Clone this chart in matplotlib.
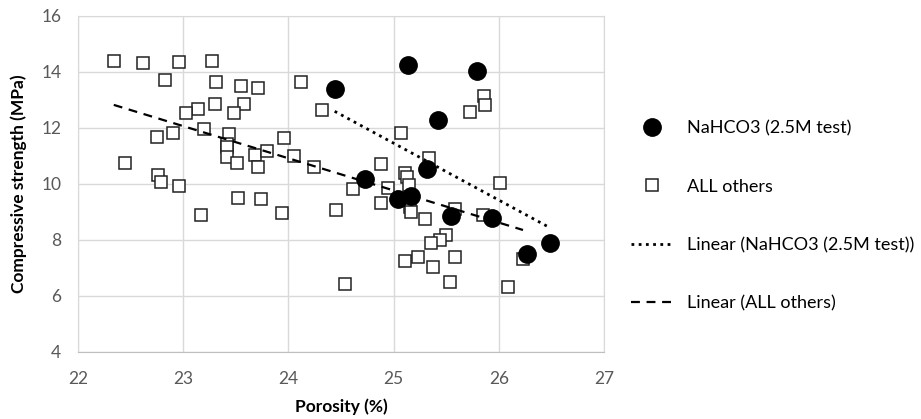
import matplotlib.pyplot as plt
import numpy as np

# NaHCO3 (2.5M test)
nahco3_porosity = [24.44, 25.14, 25.79, 25.42, 25.32, 24.73, 25.04, 25.17,
                   25.55, 25.94, 26.27, 26.49]
nahco3_strength = [13.37, 14.23, 14.02, 12.27, 10.51, 10.17, 9.45, 9.57,
                   8.85, 8.77, 7.49, 7.90]

# ALL others
other_porosity = [22.34, 22.62, 22.96, 23.27, 22.83, 23.31, 23.55, 23.71,
                  24.12, 24.32, 23.14, 23.30, 23.58, 23.03, 23.48, 22.75,
                  22.90, 23.20, 23.44, 23.42, 23.42, 23.42, 23.51, 23.68,
                  23.71, 23.80, 23.96, 24.05, 24.24, 22.45, 22.76, 22.79,
                  22.96, 23.17, 23.52, 23.74, 23.94, 24.45, 24.61, 24.88,
                  24.95, 24.88, 25.07, 25.11, 25.13, 25.15, 25.16, 25.17,
                  25.30, 25.34, 25.58, 25.73, 25.86, 25.87, 25.85, 26.01,
                  25.50, 25.44, 25.36, 25.11, 25.23, 25.37, 25.58, 25.54,
                  24.54, 26.09, 26.23]
other_strength = [14.40, 14.30, 14.35, 14.40, 13.69, 13.64, 13.48, 13.42,
                  13.62, 12.65, 12.67, 12.85, 12.85, 12.51, 12.51, 11.67,
                  11.81, 11.95, 11.76, 11.42, 11.32, 10.96, 10.74, 11.04,
                  10.58, 11.18, 11.65, 11.00, 10.60, 10.73, 10.30, 10.06,
                  9.92, 8.88, 9.49, 9.44, 8.96, 9.05, 9.82, 10.69,
                  9.83, 9.32, 11.82, 10.40, 10.25, 9.95, 9.18, 8.99,
                  8.75, 10.92, 9.08, 12.57, 13.13, 12.80, 8.88, 10.04,
                  8.18, 7.99, 7.90, 7.24, 7.40, 7.04, 7.40, 6.49,
                  6.42, 6.30, 7.30]

x_ticks = [22, 23, 24, 25, 26, 27]
y_ticks = [4, 6, 8, 10, 12, 14, 16]

plt.rcParams["font.family"] = ["Lato", "DejaVu Sans"]

fig = plt.figure(figsize=(9.21, 4.19), dpi=100)
ax = fig.add_axes([0.0847, 0.1606, 0.5711, 0.8019])


def trend(xs, ys):
    xs = np.asarray(xs)
    k, b = np.polyfit(xs, ys, 1)
    xx = np.array([xs.min(), xs.max()])
    return xx, k * xx + b


ax.plot(nahco3_porosity, nahco3_strength, "o", ms=12.5, color="black",
        label="NaHCO3 (2.5M test)", zorder=4)
ax.plot(other_porosity, other_strength, "s", ms=9, mfc="white", mec="#222222",
        mew=1.1, label="ALL others", zorder=3)

tx, ty = trend(nahco3_porosity, nahco3_strength)
ax.plot(tx, ty, color="black", lw=2, ls=(0, (1, 1.6)),
        label="Linear (NaHCO3 (2.5M test))", zorder=5)
tx, ty = trend(other_porosity, other_strength)
ax.plot(tx, ty, color="black", lw=1.6, ls=(0, (4, 3)),
        label="Linear (ALL others)", zorder=5)

ax.set_xlim(22, 27)
ax.set_ylim(4, 16)
ax.set_xticks(x_ticks)
ax.set_yticks(y_ticks)
ax.grid(True, color="#d9d9d9", lw=1)
ax.set_axisbelow(True)
for s in ax.spines.values():
    s.set_color("#d9d9d9")
ax.spines["bottom"].set_color("#bfbfbf")
ax.tick_params(length=0, labelsize=12.5, colors="#595959")
ax.tick_params(axis="x", pad=14)
ax.tick_params(axis="y", pad=12)

ax.set_xlabel("Porosity (%)", fontsize=12.5, fontweight="bold", labelpad=8)
ax.set_ylabel("Compressive strength (MPa)", fontsize=12.5, fontweight="bold",
              labelpad=10)

ax.legend(loc="center left", bbox_to_anchor=(1.02, 0.404), frameon=False,
          fontsize=13, labelspacing=2.35, handlelength=2.3, handletextpad=0.8)

fig.savefig("out.png", dpi=100)
